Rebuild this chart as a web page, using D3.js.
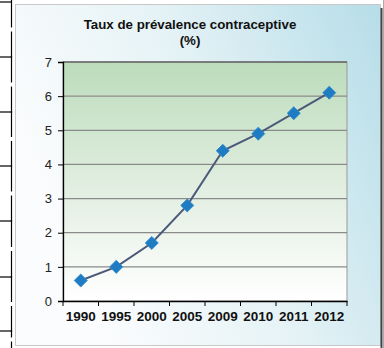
<!DOCTYPE html>
<html>
<head>
<meta charset="utf-8">
<script src="https://cdn.jsdelivr.net/npm/d3@7"></script>
<style>
  body { margin: 0; background: #fff; }
  svg { display: block; font-family: "Liberation Sans", Arial, sans-serif; }
</style>
</head>
<body>
<div id="chart"></div>
<script>
// Data
const years = ["1990", "1995", "2000", "2005", "2009", "2010", "2011", "2012"];
const rates = [0.6, 1.0, 1.7, 2.8, 4.4, 4.9, 5.5, 6.1];
const yTicks = [0, 1, 2, 3, 4, 5, 6, 7];

const width = 384;
const height = 348;
const margin = { top: 62, right: 37, bottom: 47, left: 63 };

const svg = d3.select("#chart")
  .append("svg")
  .attr("width", width)
  .attr("height", height);

const defs = svg.append("defs");

// Frame background: white to light blue
const frameGrad = defs.append("linearGradient")
  .attr("id", "frameGrad")
  .attr("x1", "0%").attr("y1", "40%")
  .attr("x2", "100%").attr("y2", "0%");
frameGrad.append("stop").attr("offset", "0%").attr("stop-color", "#fbfcfd");
frameGrad.append("stop").attr("offset", "45%").attr("stop-color", "#e6f3f6");
frameGrad.append("stop").attr("offset", "100%").attr("stop-color", "#b6dde8");

// Plot area: green on top fading to white
const plotGrad = defs.append("linearGradient")
  .attr("id", "plotGrad")
  .attr("x1", "0").attr("y1", "0")
  .attr("x2", "0").attr("y2", "1");
plotGrad.append("stop").attr("offset", "0%").attr("stop-color", "#bcdcbb");
plotGrad.append("stop").attr("offset", "55%").attr("stop-color", "#e3efe2");
plotGrad.append("stop").attr("offset", "100%").attr("stop-color", "#ffffff");

// Table lines on the left edge of the page
const rowLines = [2, 57, 112, 166, 221, 277, 331];
svg.selectAll(".rowline")
  .data(rowLines)
  .enter()
  .append("line")
  .attr("x1", 0).attr("x2", 12)
  .attr("y1", d => d).attr("y2", d => d)
  .attr("stroke", "#000").attr("stroke-width", 1.2);
rowLines.forEach((y, i) => {
  const next = i < rowLines.length - 1 ? rowLines[i + 1] : height;
  const mid = (y + next) / 2;
  svg.append("line").attr("x1", 11.5).attr("x2", 11.5)
    .attr("y1", i === 0 ? 0 : y - 1).attr("y2", mid - 2)
    .attr("stroke", "#000").attr("stroke-width", 1.2);
  svg.append("line").attr("x1", 11.5).attr("x2", 11.5)
    .attr("y1", mid + 2).attr("y2", next + 1)
    .attr("stroke", "#000").attr("stroke-width", 1.2);
});

// Chart frame
svg.append("rect")
  .attr("x", 15.5).attr("y", 4.5)
  .attr("width", 365).attr("height", 341)
  .attr("fill", "url(#frameGrad)")
  .attr("stroke", "#c8c8c8");
svg.append("line")
  .attr("x1", 381.5).attr("x2", 381.5).attr("y1", 8).attr("y2", height)
  .attr("stroke", "#444").attr("stroke-width", 2);
svg.append("rect")
  .attr("x", 383).attr("y", 0).attr("width", 1).attr("height", height)
  .attr("fill", "#aaa");

// Scales
const x = d3.scaleBand()
  .domain(years)
  .range([margin.left, width - margin.right]);

const y = d3.scaleLinear()
  .domain([0, 7])
  .range([height - margin.bottom, margin.top]);

const x0 = margin.left, x1 = width - margin.right;

// Plot area
svg.append("rect")
  .attr("x", x0).attr("y", y(7))
  .attr("width", x1 - x0).attr("height", y(0) - y(7))
  .attr("fill", "url(#plotGrad)")
  .attr("stroke", "#999");

// Gridlines
svg.selectAll(".grid")
  .data(yTicks.filter(d => d > 0))
  .enter()
  .append("line")
  .attr("x1", x0).attr("x2", x1)
  .attr("y1", d => y(d)).attr("y2", d => y(d))
  .attr("stroke", d => d === 7 ? "#666" : "#8a8a8a")
  .attr("stroke-width", 1.3);

// Y axis
const yAxis = svg.append("g")
  .attr("transform", `translate(${x0}, 0)`)
  .call(d3.axisLeft(y).tickValues(yTicks).tickSize(5).tickPadding(6).tickFormat(d3.format("d")));
yAxis.select(".domain").attr("stroke", "#000").attr("stroke-width", 1.3);
yAxis.selectAll(".tick line").attr("stroke", "#000");
yAxis.selectAll("text")
  .attr("font-size", 13)
  .attr("fill", "#222")
  .attr("font-family", "Liberation Sans, Arial, sans-serif");

// X axis with ticks between categories
const xAxis = svg.append("g")
  .attr("transform", `translate(0, ${y(0)})`)
  .call(d3.axisBottom(x).tickSize(0).tickPadding(10));
xAxis.select(".domain").attr("stroke", "#000").attr("stroke-width", 1.3);
xAxis.selectAll("text")
  .attr("font-size", 13.5)
  .attr("font-weight", "bold")
  .attr("fill", "#111")
  .attr("font-family", "Liberation Sans, Arial, sans-serif");
xAxis.selectAll(".sep")
  .data(years.concat(["end"]))
  .enter()
  .append("line")
  .attr("x1", (d, i) => i < years.length ? x(d) : x1)
  .attr("x2", (d, i) => i < years.length ? x(d) : x1)
  .attr("y1", 0).attr("y2", 5)
  .attr("stroke", "#000");

// Title
const title = svg.append("text")
  .attr("x", 190)
  .attr("text-anchor", "middle")
  .attr("font-size", 13.3)
  .attr("font-weight", "bold")
  .attr("fill", "#111");
title.append("tspan").attr("x", 190).attr("y", 29).text("Taux de prévalence contraceptive");
title.append("tspan").attr("x", 190).attr("y", 45).text("(%)");

// Line
const line = d3.line()
  .x((d, i) => x(years[i]) + x.bandwidth() / 2)
  .y(d => y(d));

svg.append("path")
  .datum(rates)
  .attr("d", line)
  .attr("fill", "none")
  .attr("stroke", "#4c5a7a")
  .attr("stroke-width", 2);

// Diamond markers
svg.selectAll(".marker")
  .data(rates)
  .enter()
  .append("path")
  .attr("d", d3.symbol().type(d3.symbolSquare).size(85))
  .attr("transform", (d, i) => `translate(${x(years[i]) + x.bandwidth() / 2}, ${y(d)}) rotate(45)`)
  .attr("fill", "#1f7cc2")
  .attr("stroke", "#2a8ad0")
  .attr("stroke-width", 0.8);
</script>
</body>
</html>
